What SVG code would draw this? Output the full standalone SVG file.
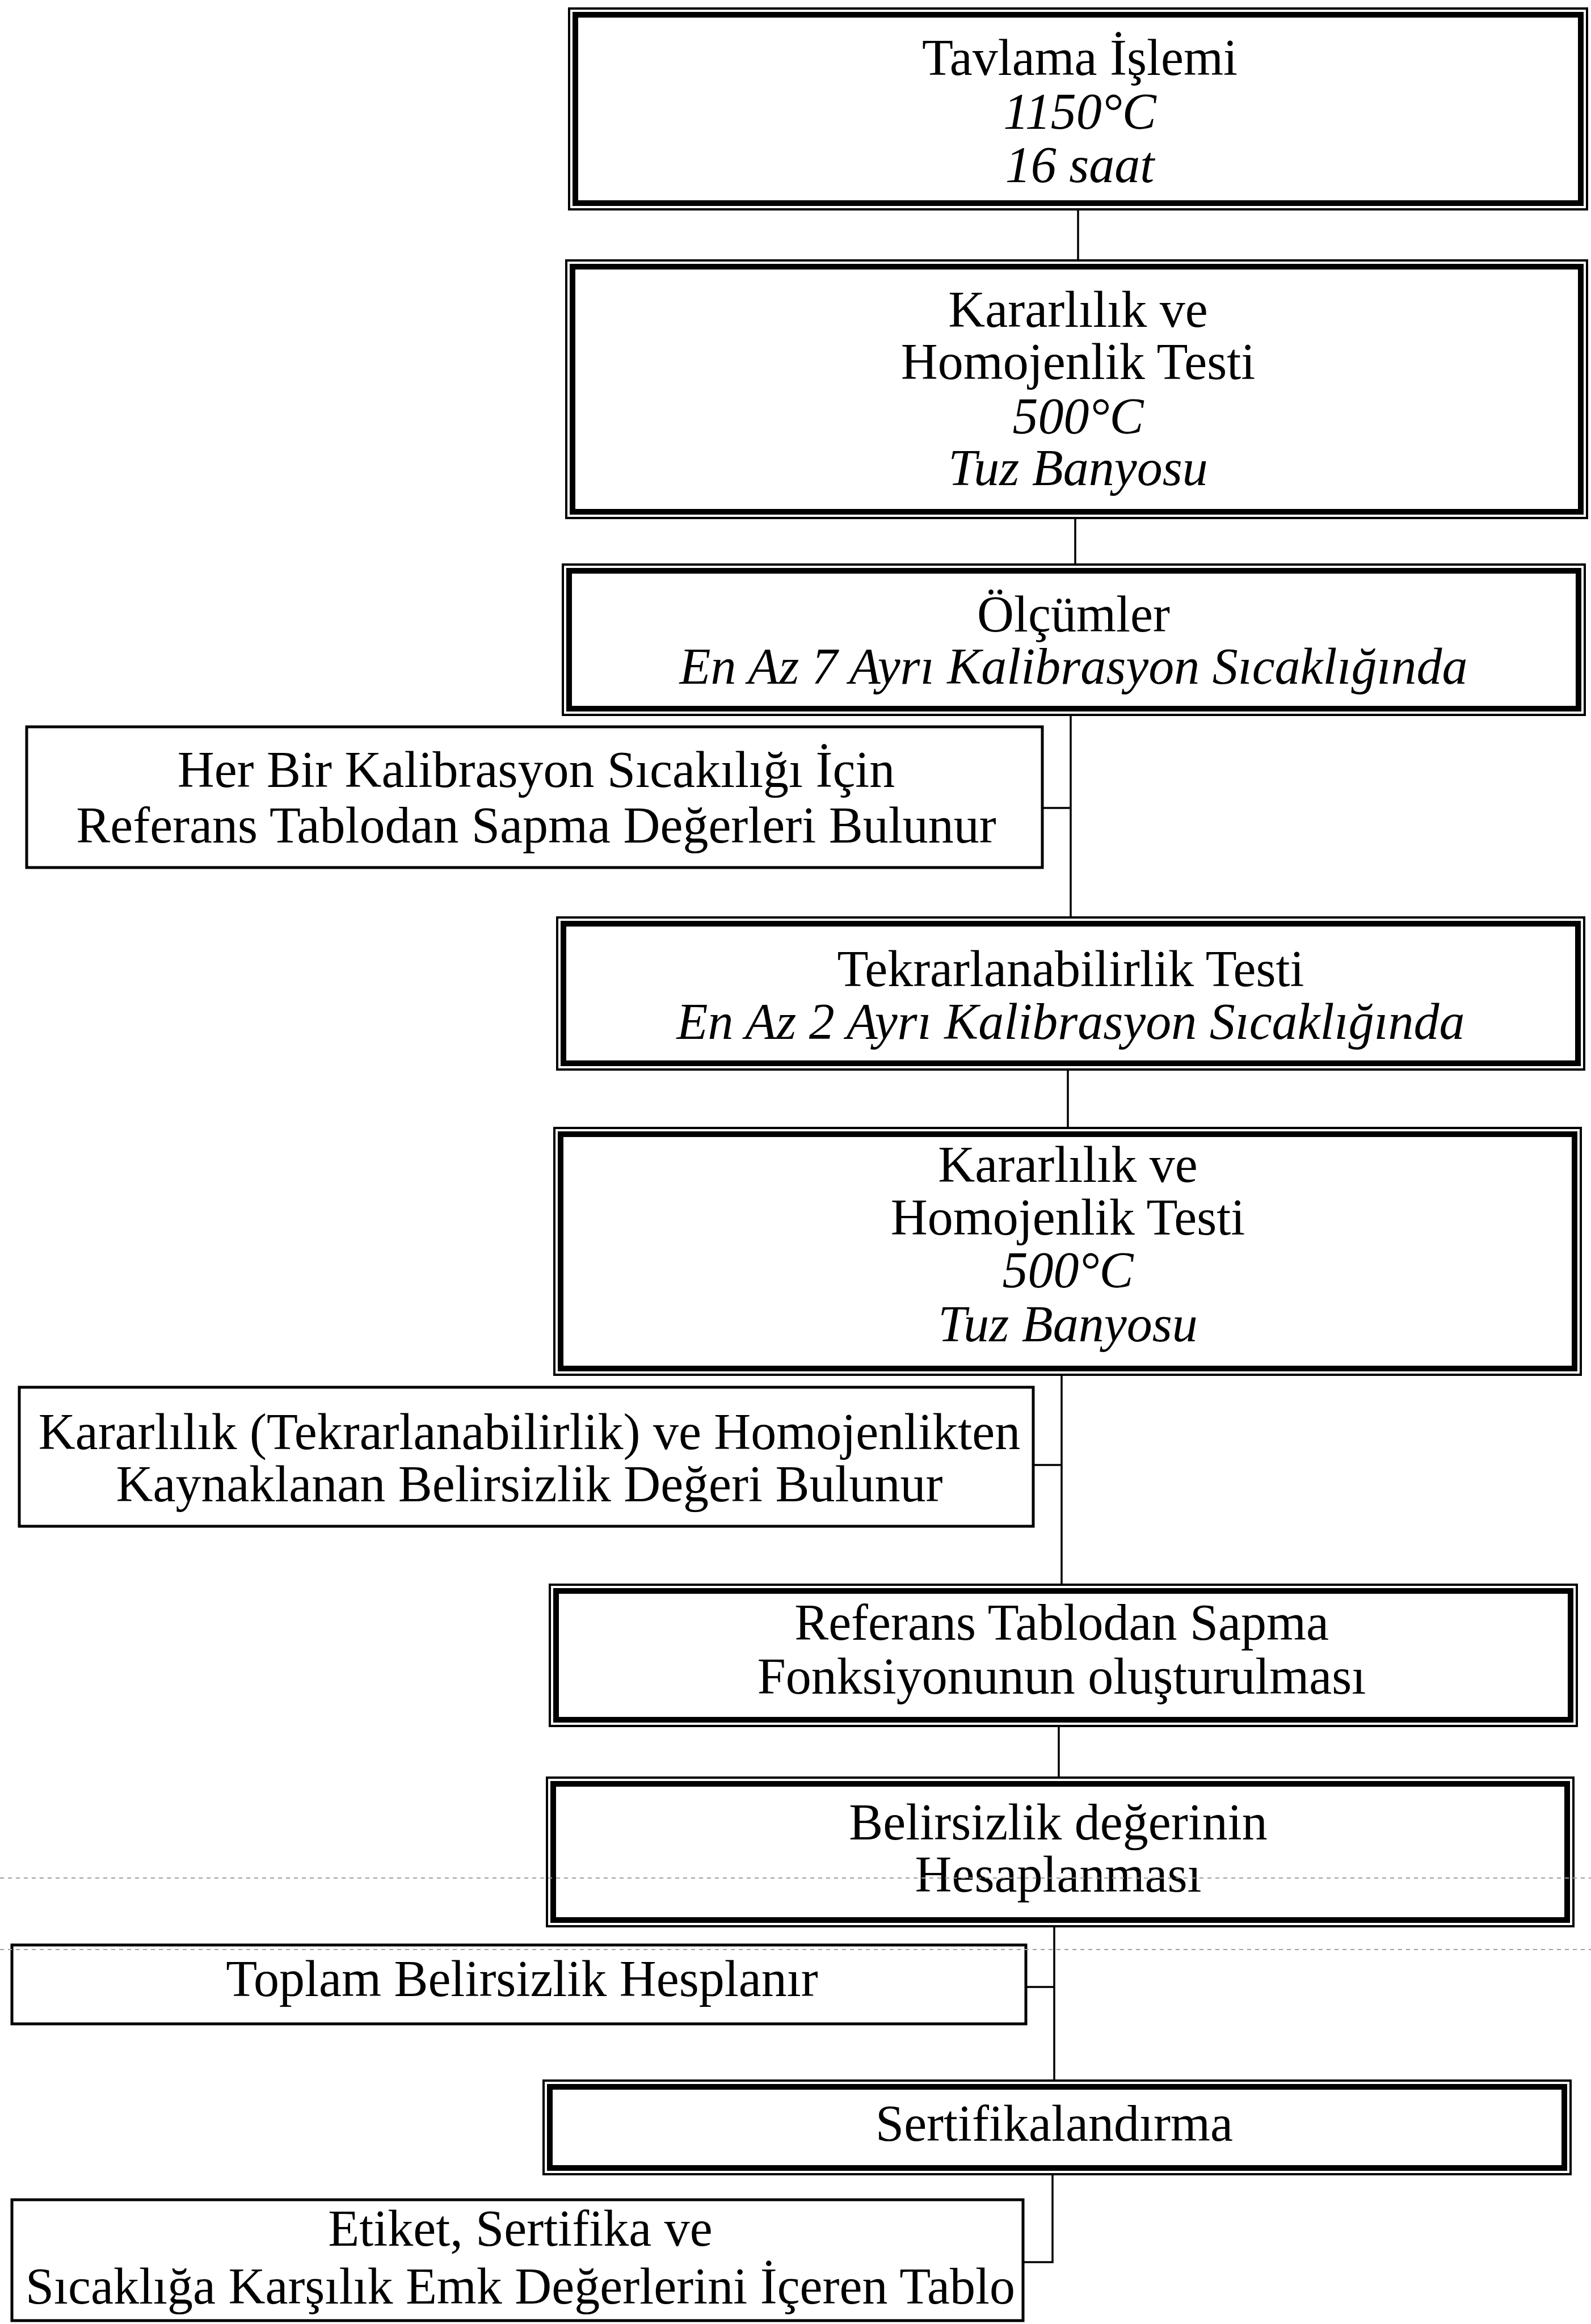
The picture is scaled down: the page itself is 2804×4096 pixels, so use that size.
<svg xmlns="http://www.w3.org/2000/svg" width="2804" height="4096" viewBox="0 0 2804 4096">
<style>
.bg{fill:#fff}
.outer{fill:#fff;stroke:#000;stroke-width:4}
.thick{fill:none;stroke:#000;stroke-width:10}
.side{fill:#fff;stroke:#000;stroke-width:5}
.conn{fill:none;stroke:#000;stroke-width:3.5}
.scan{fill:none;stroke:#a0a0a0;stroke-width:2;stroke-dasharray:7 7}
text{font-family:"Liberation Serif","Times New Roman",serif;font-size:90px;fill:#000;text-anchor:middle}
.it{font-style:italic}
</style>
<rect class="bg" x="0" y="0" width="2804" height="4096"/>
<g id="connectors">
<path class="conn" d="M1900 371 V457"/>
<path class="conn" d="M1895 915 V993"/>
<path class="conn" d="M1887 1262 V1615 M1837 1424 H1887"/>
<path class="conn" d="M1882 1887 V1986"/>
<path class="conn" d="M1871 2425 V2791 M1821 2582 H1871"/>
<path class="conn" d="M1866 3044 V3131"/>
<path class="conn" d="M1858 3397 V3665 M1808 3502 H1858"/>
<path class="conn" d="M1855 3834 V3987 H1803"/>
</g>
<g id="n1">
<rect class="outer" x="1003" y="15" width="1794" height="354"/>
<rect class="thick" x="1014" y="26" width="1772" height="332"/>
<text x="1903" y="132">Tavlama İşlemi</text>
<text class="it" x="1903" y="227">1150°C</text>
<text class="it" x="1903" y="321">16 saat</text>
</g>
<g id="n2">
<rect class="outer" x="998" y="459" width="1799" height="454"/>
<rect class="thick" x="1009" y="470" width="1777" height="432"/>
<text x="1900" y="576">Kararlılık ve</text>
<text x="1900" y="668">Homojenlik Testi</text>
<text class="it" x="1900" y="764">500°C</text>
<text class="it" x="1900" y="855">Tuz Banyosu</text>
</g>
<g id="n3">
<rect class="outer" x="992" y="995" width="1801" height="265"/>
<rect class="thick" x="1003" y="1006" width="1779" height="243"/>
<text x="1892" y="1113">Ölçümler</text>
<text class="it" x="1892" y="1205">En Az 7 Ayrı Kalibrasyon Sıcaklığında</text>
</g>
<g id="s1">
<rect class="side" x="47" y="1281" width="1790" height="248"/>
<text x="945" y="1387">Her Bir Kalibrasyon Sıcakılığı İçin</text>
<text x="945" y="1485">Referans Tablodan Sapma Değerleri Bulunur</text>
</g>
<g id="n4">
<rect class="outer" x="982" y="1617" width="1810" height="268"/>
<rect class="thick" x="993" y="1628" width="1788" height="246"/>
<text x="1887" y="1738">Tekrarlanabilirlik Testi</text>
<text class="it" x="1887" y="1831">En Az 2 Ayrı Kalibrasyon Sıcaklığında</text>
</g>
<g id="n5">
<rect class="outer" x="977" y="1988" width="1809" height="435"/>
<rect class="thick" x="988" y="1999" width="1787" height="413"/>
<text x="1882" y="2083">Kararlılık ve</text>
<text x="1882" y="2176">Homojenlik Testi</text>
<text class="it" x="1882" y="2269">500°C</text>
<text class="it" x="1882" y="2364">Tuz Banyosu</text>
</g>
<g id="s2">
<rect class="side" x="34" y="2445" width="1787" height="245"/>
<text x="933" y="2554">Kararlılık (Tekrarlanabilirlik) ve Homojenlikten</text>
<text x="933" y="2646">Kaynaklanan Belirsizlik Değeri Bulunur</text>
</g>
<g id="n6">
<rect class="outer" x="969" y="2793" width="1810" height="249"/>
<rect class="thick" x="980" y="2804" width="1788" height="227"/>
<text x="1871" y="2890">Referans Tablodan Sapma</text>
<text x="1871" y="2985">Fonksiyonunun oluşturulması</text>
</g>
<g id="n7">
<rect class="outer" x="964" y="3133" width="1809" height="262"/>
<rect class="thick" x="975" y="3144" width="1787" height="240"/>
<text x="1865" y="3242">Belirsizlik değerinin</text>
<text x="1865" y="3334">Hesaplanması</text>
</g>
<g id="s3">
<rect class="side" x="21" y="3428" width="1787" height="139"/>
<text x="920" y="3518">Toplam Belirsizlik Hesplanır</text>
</g>
<g id="n8">
<rect class="outer" x="958" y="3667" width="1810" height="165"/>
<rect class="thick" x="969" y="3678" width="1788" height="143"/>
<text x="1858" y="3773">Sertifikalandırma</text>
</g>
<g id="s4">
<rect class="side" x="21" y="3877" width="1782" height="213"/>
<text x="917" y="3958">Etiket, Sertifika ve</text>
<text x="917" y="4060">Sıcaklığa Karşılık Emk Değerlerini İçeren Tablo</text>
</g>
<g id="scan-artifacts">
<path class="scan" d="M0 3310 H2804"/>
<path class="scan" d="M0 3436 H2804"/>
</g>
</svg>
